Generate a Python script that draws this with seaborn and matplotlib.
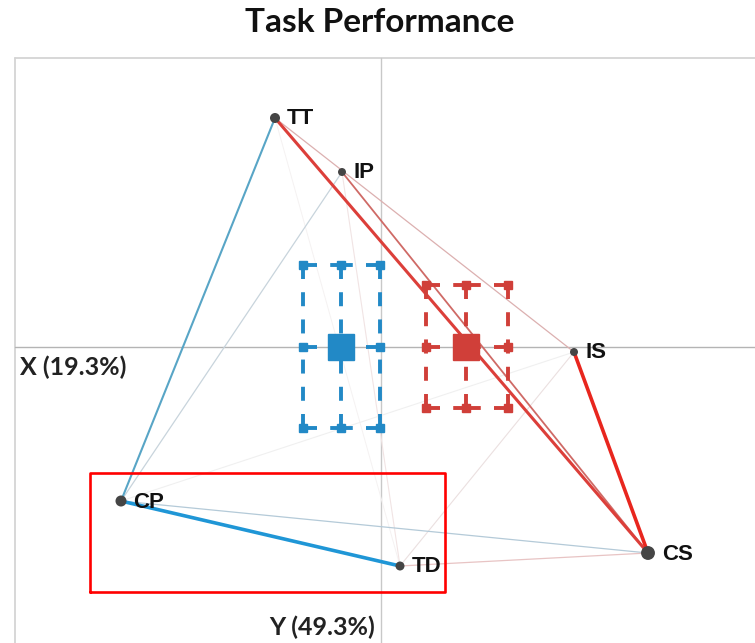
import matplotlib
matplotlib.use("Agg")
import matplotlib.pyplot as plt
import seaborn as sns
import pandas as pd

sns.set_theme(style="white")
plt.rcParams["font.family"] = ["Liberation Sans", "DejaVu Sans"]

# Node positions on the two-dimensional map and their marker weights
nodes = ["TT", "IP", "IS", "CS", "CP", "TD"]
node_x = [-1.06, -0.39, 1.93, 2.67, -2.60, 0.19]
node_y = [2.29, 1.75, -0.05, -2.06, -1.54, -2.19]
node_weight = [52, 33, 33, 100, 63, 42]

# Links between nodes: (from, to, colour, width)
edge_from = ["TT", "IS", "IP", "TT", "TT", "CP", "CP", "TD", "IP", "IP", "TD", "CP", "TT"]
edge_to = ["CS", "CS", "CS", "IS", "CP", "TD", "CS", "CS", "CP", "TD", "IS", "IS", "TD"]
edge_color = ["#dc3f3a", "#e8261e", "#cf6a66", "#dcb0b0", "#58a5c6", "#1f96d6",
              "#b4cad8", "#e8c4c4", "#c8d4dc", "#f1e4e4", "#ebe0e0", "#f0f0f0", "#f5f2f2"]
edge_width = [2.2, 2.6, 1.3, 0.9, 1.5, 2.6, 0.9, 0.9, 0.9, 0.8, 0.8, 0.8, 0.7]

# Group centres with their spread (low / high) on each axis
group_color = ["#2289c6", "#d03f39"]
group_cx = [-0.40, 0.85]
group_cy = [0.00, 0.00]
group_xlo = [-0.78, 0.45]
group_xhi = [-0.01, 1.27]
group_ylo = [-0.81, -0.61]
group_yhi = [0.82, 0.62]

# Highlight frame around CP and TD
box_x = [-2.91, 0.64]
box_y = [-2.45, -1.26]

fig = plt.figure(figsize=(7.55, 6.43), dpi=100)
ax = fig.add_axes([0, 0, 1, 1])
ax.set_xlim(-3.81, 3.74)
ax.set_ylim(-2.96, 3.47)
ax.axis("off")

top = 2.89
left = -3.66
# plot frame (left and top) and the crosshair through the origin
ax.plot([left, left], [-2.96, top], color="#d4d4d4", lw=1.3, zorder=0)
ax.plot([left, 3.74], [top, top], color="#d4d4d4", lw=1.3, zorder=0)
ax.plot([0, 0], [-2.96, top], color="#c8c8c8", lw=1.0, zorder=0)
ax.plot([left, 3.74], [0, 0], color="#b4b4b4", lw=1.0, zorder=0)

pos = dict(zip(nodes, zip(node_x, node_y)))
# faint links first so that strong ones sit on top
order = sorted(range(len(edge_from)), key=lambda i: edge_width[i])
for i in order:
    (x0, y0), (x1, y1) = pos[edge_from[i]], pos[edge_to[i]]
    ax.plot([x0, x1], [y0, y1], color=edge_color[i], lw=edge_width[i],
            solid_capstyle="round", zorder=1 + edge_width[i])

# group centres drawn as dashed 3x3 grids
dash = (0, (3.6, 3.4))
for c, cx, cy, xl, xh, yl, yh in zip(group_color, group_cx, group_cy,
                                     group_xlo, group_xhi, group_ylo, group_yhi):
    xs = [xl, cx, xh]
    ys = [yl, cy, yh]
    for gx in xs:
        for a, b in ((yl, cy), (yh, cy)):
            ax.plot([gx, gx], [a, b], color=c, lw=2.8, ls=dash, zorder=6)
    for gy in ys:
        for a, b in ((xl, cx), (xh, cx)):
            ax.plot([a, b], [gy, gy], color=c, lw=2.8, ls=dash, zorder=6)
    for gx in xs:
        for gy in ys:
            if gx == cx and gy == cy:
                continue
            ax.plot(gx, gy, marker="s", ms=5.8, color=c, mec=c, zorder=7)
    ax.plot(cx, cy, marker="s", ms=19, color=c, mec=c, zorder=8)

df = pd.DataFrame({"x": node_x, "y": node_y, "w": node_weight, "name": nodes})
sns.scatterplot(data=df, x="x", y="y", size="w", sizes=(min(node_weight), max(node_weight)),
                color="#454545", edgecolor="none", legend=False, ax=ax, zorder=10)
for n, x, y, w in zip(nodes, node_x, node_y, node_weight):
    ax.text(x + 0.10 + w * 0.0004, y - 0.01, n, fontsize=16, fontweight="bold",
            color="#111111", ha="left", va="center", zorder=11)

ax.plot([box_x[0], box_x[1], box_x[1], box_x[0], box_x[0]],
        [box_y[0], box_y[0], box_y[1], box_y[1], box_y[0]],
        color="#ff0000", lw=1.9, zorder=12)

lab_font = ["Lato", "DejaVu Sans"]
ax.text(-3.61, -0.20, "X (19.3%)", fontsize=18, fontweight="bold", family=lab_font,
        color="#222222", ha="left", va="center")
ax.text(-0.06, -2.80, "Y (49.3%)", fontsize=18, fontweight="bold", family=lab_font,
        color="#222222", ha="right", va="center")
fig.text(0.503, 0.965, "Task Performance", fontsize=24, fontweight="bold", family=lab_font,
         color="#111111", ha="center", va="center")

fig.savefig("out.png", dpi=100)
